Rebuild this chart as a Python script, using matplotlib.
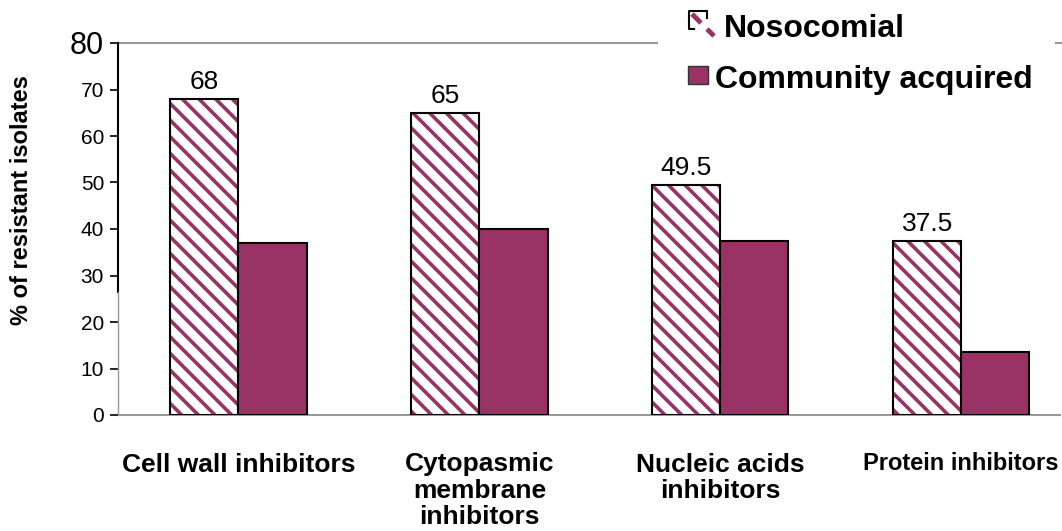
import matplotlib
matplotlib.use("Agg")
import matplotlib.pyplot as plt
from matplotlib.patches import Rectangle
from matplotlib.lines import Line2D
import numpy as np

categories = ["Cell wall inhibitors", "Cytopasmic\nmembrane\ninhibitors",
              "Nucleic acids\ninhibitors", "Protein inhibitors"]
nosocomial = [68, 65, 49.5, 37.5]
community = [37, 40, 37.5, 13.5]
value_labels = ["68", "65", "49.5", "37.5"]
yticks = [0, 10, 20, 30, 40, 50, 60, 70, 80]
series_names = ["Nosocomial", "Community acquired"]

PURPLE = "#993366"
plt.rcParams["font.family"] = ["Liberation Sans", "DejaVu Sans"]
plt.rcParams["hatch.linewidth"] = 2.6

W, H = 1062, 531
fig = plt.figure(figsize=(W / 100, H / 100), dpi=100)
L, R, T, B = 118, 1060, 43, 415
ax = fig.add_axes([L / W, (H - B) / H, (R - L) / W, (B - T) / H])


def fx(px):
    return px / W


def fy(py):
    return (H - py) / H


x = np.arange(len(categories))
bw = 0.283
ax.set_xlim(-0.5, 3.41)
ax.set_ylim(0, 80)

# hatched nosocomial bars
ax.bar(x - bw / 2, nosocomial, bw, facecolor="white", edgecolor=PURPLE,
       hatch="\\\\", linewidth=0, zorder=2)
ax.bar(x - bw / 2, nosocomial, bw, fill=False, edgecolor="black",
       linewidth=1.5, zorder=3)
ax.bar(x + bw / 2, community, bw, facecolor=PURPLE, edgecolor="black",
       linewidth=1.5, zorder=3)

for xi, v, lab in zip(x, nosocomial, value_labels):
    ax.text(xi - bw / 2, v + 1.0, lab, ha="center", va="bottom", fontsize=19)

for s in ax.spines.values():
    s.set_visible(False)

# axis lines
ax.plot([-0.5, 3.41], [0, 0], color="#999999", lw=1.5, clip_on=False, zorder=1)
ax.plot([-0.5, 1.739], [80, 80], color="#999999", lw=1.5, clip_on=False, zorder=1)
ax.plot([3.395, 3.42], [80, 80], color="#999999", lw=1.5, clip_on=False, zorder=1)
ax.plot([-0.5, -0.5], [26.5, 80], color="black", lw=1.5, clip_on=False, zorder=4)
ax.plot([-0.5, -0.5], [0, 26.5], color="#999999", lw=1, clip_on=False, zorder=4)

ax.set_yticks(yticks)
ax.set_yticklabels([str(t) for t in yticks])
ax.tick_params(axis="y", direction="out", length=6, width=1.2, color="black",
               labelsize=15, pad=4)
ax.get_yticklabels()[-1].set_fontsize(22)

ax.set_xticks(x)
ax.set_xticklabels(categories, fontweight="bold", fontsize=19, linespacing=1.12,
                   va="top")
ax.tick_params(axis="x", length=0, pad=27)
ax.get_xticklabels()[-1].set_fontsize(17)

fig.text(22 / W, 0.5 * (fy(75) + fy(325)), "% of resistant isolates",
         rotation=90, ha="center", va="center", fontweight="bold", fontsize=17)

# legend: nosocomial icon
fig.add_artist(Line2D([fx(707), fx(689), fx(689), fx(694)],
                      [fy(11), fy(11), fy(29), fy(29)],
                      color="black", lw=1.5))
fig.add_artist(Line2D([fx(707), fx(707)], [fy(11), fy(18)], color="black", lw=1.5))
fig.add_artist(Line2D([fx(692), fx(701)], [fy(14), fy(23)], color=PURPLE, lw=3.5,
                      solid_capstyle="butt"))
fig.add_artist(Line2D([fx(707), fx(714)], [fy(29), fy(36)], color=PURPLE, lw=3.5,
                      solid_capstyle="butt"))
# legend: community square
fig.patches.append(Rectangle((fx(688), fy(84)), 20 / W, 18 / H,
                             transform=fig.transFigure, facecolor=PURPLE,
                             edgecolor="#333333", linewidth=1))
fig.text(fx(724), fy(29), series_names[0], fontweight="bold",
         fontsize=23, va="center", ha="left")
fig.text(fx(715), fy(80), series_names[1], fontweight="bold",
         fontsize=23, va="center", ha="left")

fig.savefig("out.png", dpi=100)
